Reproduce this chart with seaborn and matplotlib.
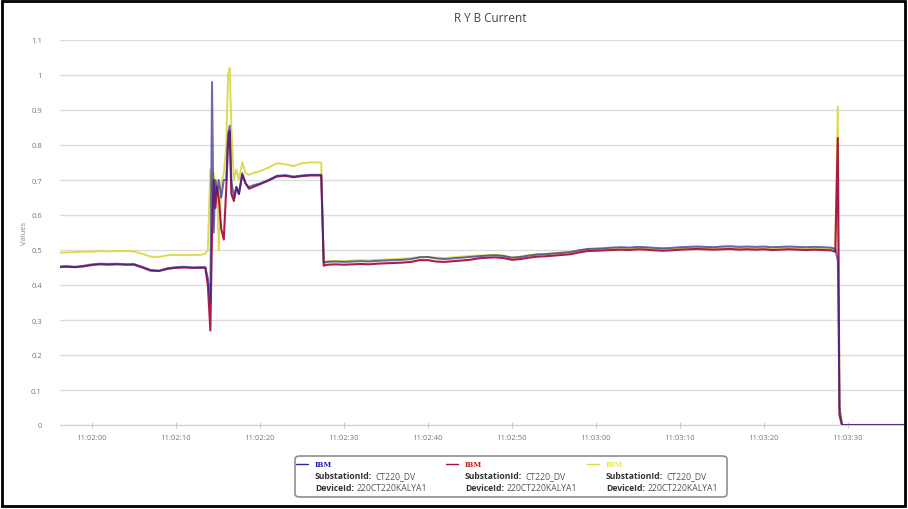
import numpy as np
import pandas as pd
import matplotlib
matplotlib.use("Agg")
import matplotlib.pyplot as plt
import matplotlib.dates as mdates
from matplotlib.patches import FancyBboxPatch, Rectangle
from matplotlib.lines import Line2D
import seaborn as sns

# Seconds after 11:02:00 for each sample
seconds = [
    -4, -3, -2, -1, 0, 1, 2, 3, 4, 5, 6, 7, 8, 9, 10, 11, 12, 13,
    13.5, 13.8, 14.1, 14.3, 14.5, 14.7, 14.9, 15.1, 15.4, 15.7, 16.0, 16.2,
    16.4, 16.6, 16.9, 17.2, 17.5, 17.9, 18.3, 18.7, 19.2,
    20, 21, 22, 23, 24, 25, 26, 27, 27.3, 27.6,
    28, 29, 30, 31, 32, 33, 34, 35, 36, 37,
    38, 39, 40, 41, 42, 43, 44, 45, 46, 47,
    48, 49, 50, 51, 52, 53, 54, 55, 56, 57,
    58, 59, 60, 61, 62, 63, 64, 65, 66, 67,
    68, 69, 70, 71, 72, 73, 74, 75, 76, 77,
    78, 79, 80, 81, 82, 83, 84, 85, 86, 87,
    88, 88.5, 88.8, 89.0, 89.3,
    90, 91, 92, 93, 94, 95, 96, 97,
]

r_phase = [
    0.453, 0.454, 0.452, 0.455, 0.459, 0.461, 0.460, 0.461, 0.459, 0.460, 0.452, 0.443, 0.441, 0.448, 0.451, 0.452, 0.450, 0.451,
    0.450, 0.420, 0.350, 0.980, 0.550, 0.700, 0.660, 0.700, 0.650, 0.700, 0.700, 0.830,
    0.855, 0.700, 0.650, 0.680, 0.660, 0.720, 0.690, 0.680, 0.685,
    0.690, 0.700, 0.712, 0.714, 0.710, 0.713, 0.715, 0.715, 0.715, 0.465,
    0.466, 0.467, 0.466, 0.467, 0.468, 0.467, 0.469, 0.470, 0.471, 0.472,
    0.474, 0.479, 0.480, 0.476, 0.474, 0.476, 0.478, 0.480, 0.482, 0.484,
    0.485, 0.483, 0.478, 0.480, 0.484, 0.487, 0.488, 0.490, 0.492, 0.494,
    0.499, 0.503, 0.504, 0.505, 0.507, 0.508, 0.507, 0.509, 0.508, 0.506,
    0.505, 0.506, 0.508, 0.509, 0.510, 0.509, 0.508, 0.510, 0.511, 0.509,
    0.510, 0.509, 0.510, 0.508, 0.509, 0.510, 0.509, 0.508, 0.509, 0.508,
    0.507, 0.503, 0.470, 0.050, 0.000,
    0, 0, 0, 0, 0, 0, 0, 0,
]

y_phase = [
    0.451, 0.452, 0.451, 0.453, 0.457, 0.459, 0.458, 0.459, 0.458, 0.458, 0.450, 0.441, 0.440, 0.446, 0.449, 0.450, 0.449, 0.449,
    0.450, 0.400, 0.270, 0.550, 0.700, 0.620, 0.680, 0.650, 0.560, 0.530, 0.680, 0.800,
    0.840, 0.660, 0.640, 0.680, 0.660, 0.715, 0.690, 0.675, 0.680,
    0.688, 0.698, 0.710, 0.712, 0.708, 0.711, 0.713, 0.713, 0.713, 0.455,
    0.458, 0.459, 0.458, 0.459, 0.460, 0.459, 0.461, 0.462, 0.463, 0.464,
    0.466, 0.471, 0.471, 0.467, 0.466, 0.468, 0.470, 0.472, 0.476, 0.478,
    0.479, 0.477, 0.472, 0.474, 0.478, 0.481, 0.482, 0.484, 0.486, 0.488,
    0.493, 0.497, 0.498, 0.499, 0.500, 0.501, 0.500, 0.502, 0.501, 0.499,
    0.498, 0.499, 0.501, 0.502, 0.503, 0.502, 0.501, 0.502, 0.503, 0.501,
    0.502, 0.501, 0.502, 0.500, 0.501, 0.502, 0.501, 0.500, 0.501, 0.500,
    0.499, 0.495, 0.820, 0.030, 0.000,
    0, 0, 0, 0, 0, 0, 0, 0,
]

b_phase = [
    0.492, 0.493, 0.494, 0.495, 0.495, 0.497, 0.496, 0.497, 0.497, 0.496, 0.489, 0.481, 0.480, 0.485, 0.486, 0.485, 0.486, 0.486,
    0.490, 0.500, 0.730, 0.600, 0.720, 0.660, 0.700, 0.500, 0.690, 0.720, 0.800, 1.000,
    1.020, 0.850, 0.700, 0.730, 0.700, 0.750, 0.720, 0.715, 0.720,
    0.725, 0.735, 0.748, 0.745, 0.740, 0.748, 0.750, 0.750, 0.750, 0.460,
    0.468, 0.469, 0.468, 0.470, 0.471, 0.470, 0.472, 0.473, 0.474, 0.475,
    0.477, 0.480, 0.480, 0.478, 0.477, 0.479, 0.481, 0.483, 0.484, 0.485,
    0.486, 0.484, 0.479, 0.481, 0.485, 0.488, 0.489, 0.491, 0.493, 0.495,
    0.499, 0.502, 0.503, 0.504, 0.505, 0.506, 0.505, 0.506, 0.505, 0.503,
    0.502, 0.503, 0.505, 0.506, 0.507, 0.506, 0.505, 0.506, 0.507, 0.505,
    0.506, 0.505, 0.506, 0.504, 0.505, 0.506, 0.505, 0.504, 0.505, 0.504,
    0.503, 0.500, 0.910, 0.020, 0.000,
    0, 0, 0, 0, 0, 0, 0, 0,
]

series_names = ["R", "Y", "B"]
series_colors = ["#2a2a90", "#a8123c", "#d8d840"]
legend_colors = ["#2020b0", "#d01818", "#e8e850"]
legend_title = "IBM"
substation = "CT220_DV"
device = "220CT220KALYA1"
y_ticks = [0, 0.1, 0.2, 0.3, 0.4, 0.5, 0.6, 0.7, 0.8, 0.9, 1, 1.1]
y_tick_labels = ["0", "0.1", "0.2", "0.3", "0.4", "0.5", "0.6", "0.7", "0.8", "0.9", "1", "1.1"]

base = pd.Timestamp("2019-01-01 11:02:00")
times = base + pd.to_timedelta(seconds, unit="s")
df = pd.concat(
    [pd.DataFrame({"time": times, "value": v, "phase": n})
     for n, v in zip(series_names, [r_phase, y_phase, b_phase])],
    ignore_index=True,
)

sns.set_style("white")
plt.rcParams["font.family"] = ["Open Sans", "DejaVu Sans"]

W, H = 908, 510
fig = plt.figure(figsize=(W / 100, H / 100), dpi=100)
ax = fig.add_axes([60 / W, 1 - 426 / H, (905 - 60) / W, (426 - 41) / H])

# bright phase underneath; the dark phase is translucent so overlaps blend
order = ["B", "Y", "R"]
alphas = {"B": 0.9, "Y": 0.95, "R": 0.7}
widths = {"B": 1.4, "Y": 1.5, "R": 1.4}
palette = dict(zip(series_names, series_colors))
for name in order:
    sns.lineplot(data=df[df["phase"] == name], x="time", y="value",
                 color=palette[name], lw=widths[name], alpha=alphas[name],
                 ax=ax, legend=False, estimator=None, sort=True)

ax.set_ylim(0, 1.1)
ax.set_xlim(base + pd.Timedelta(seconds=-3.8), base + pd.Timedelta(seconds=96.8))
ax.set_yticks(y_ticks)
ax.set_yticklabels(y_tick_labels)
ax.xaxis.set_major_locator(mdates.SecondLocator(bysecond=range(0, 60, 10)))
ax.xaxis.set_major_formatter(mdates.DateFormatter("%H:%M:%S"))
ax.grid(axis="y", color="#dcdcdc", lw=1)
ax.grid(axis="x", visible=False)
for s in ["top", "right", "left"]:
    ax.spines[s].set_visible(False)
ax.spines["bottom"].set_color("#d0d0d0")
ax.tick_params(axis="y", length=0, pad=13, labelsize=5.5, labelcolor="#777777")
ax.tick_params(axis="x", length=5, direction="inout", color="#c8c8c8",
               pad=4, labelsize=5.5, labelcolor="#777777", bottom=True)
ax.set_xlabel("")
ax.set_ylabel("Values", fontsize=5.5, color="#888888", labelpad=2)

fig.text(490 / W, 1 - 18 / H, "R Y B Current", ha="center", va="center",
         fontsize=8.5, color="#444444")

# legend box
box = FancyBboxPatch((295 / W, 1 - 498 / H), (727 - 295) / W, (498 - 457) / H,
                     boxstyle="round,pad=0,rounding_size=0.006",
                     transform=fig.transFigure, fc="white", ec="#8a9096", lw=1.2)
fig.patches.append(box)
renderer = fig.canvas.get_renderer()
fs = 6.2
entry_x = [296, 446, 587]
for x0, col, lcol in zip(entry_x, series_colors, legend_colors):
    fig.lines.append(Line2D([x0 / W, (x0 + 12) / W], [1 - 465 / H] * 2,
                            transform=fig.transFigure, color=col, lw=1))
    tx = (x0 + 19) / W
    fig.text(tx, 1 - 465 / H, legend_title, color=lcol, fontsize=5,
             fontweight="bold", va="center", ha="left", family="DejaVu Serif")
    for yy, key, val in [(477, "SubstationId:", substation), (489, "DeviceId:", device)]:
        k = fig.text(tx, 1 - yy / H, key, color="#333333", fontsize=fs,
                     fontweight="bold", va="center", ha="left")
        bb = k.get_window_extent(renderer=renderer)
        fig.text((bb.x1 + 3) / W, 1 - yy / H, val, color="#555555", fontsize=fs,
                 va="center", ha="left")

# outer frame
fig.patches.append(Rectangle((2 / W, 3 / H), (905 - 2) / W, (508 - 3) / H,
                             transform=fig.transFigure, fill=False, ec="black", lw=2))

fig.savefig("out.png", dpi=100, facecolor="white")
